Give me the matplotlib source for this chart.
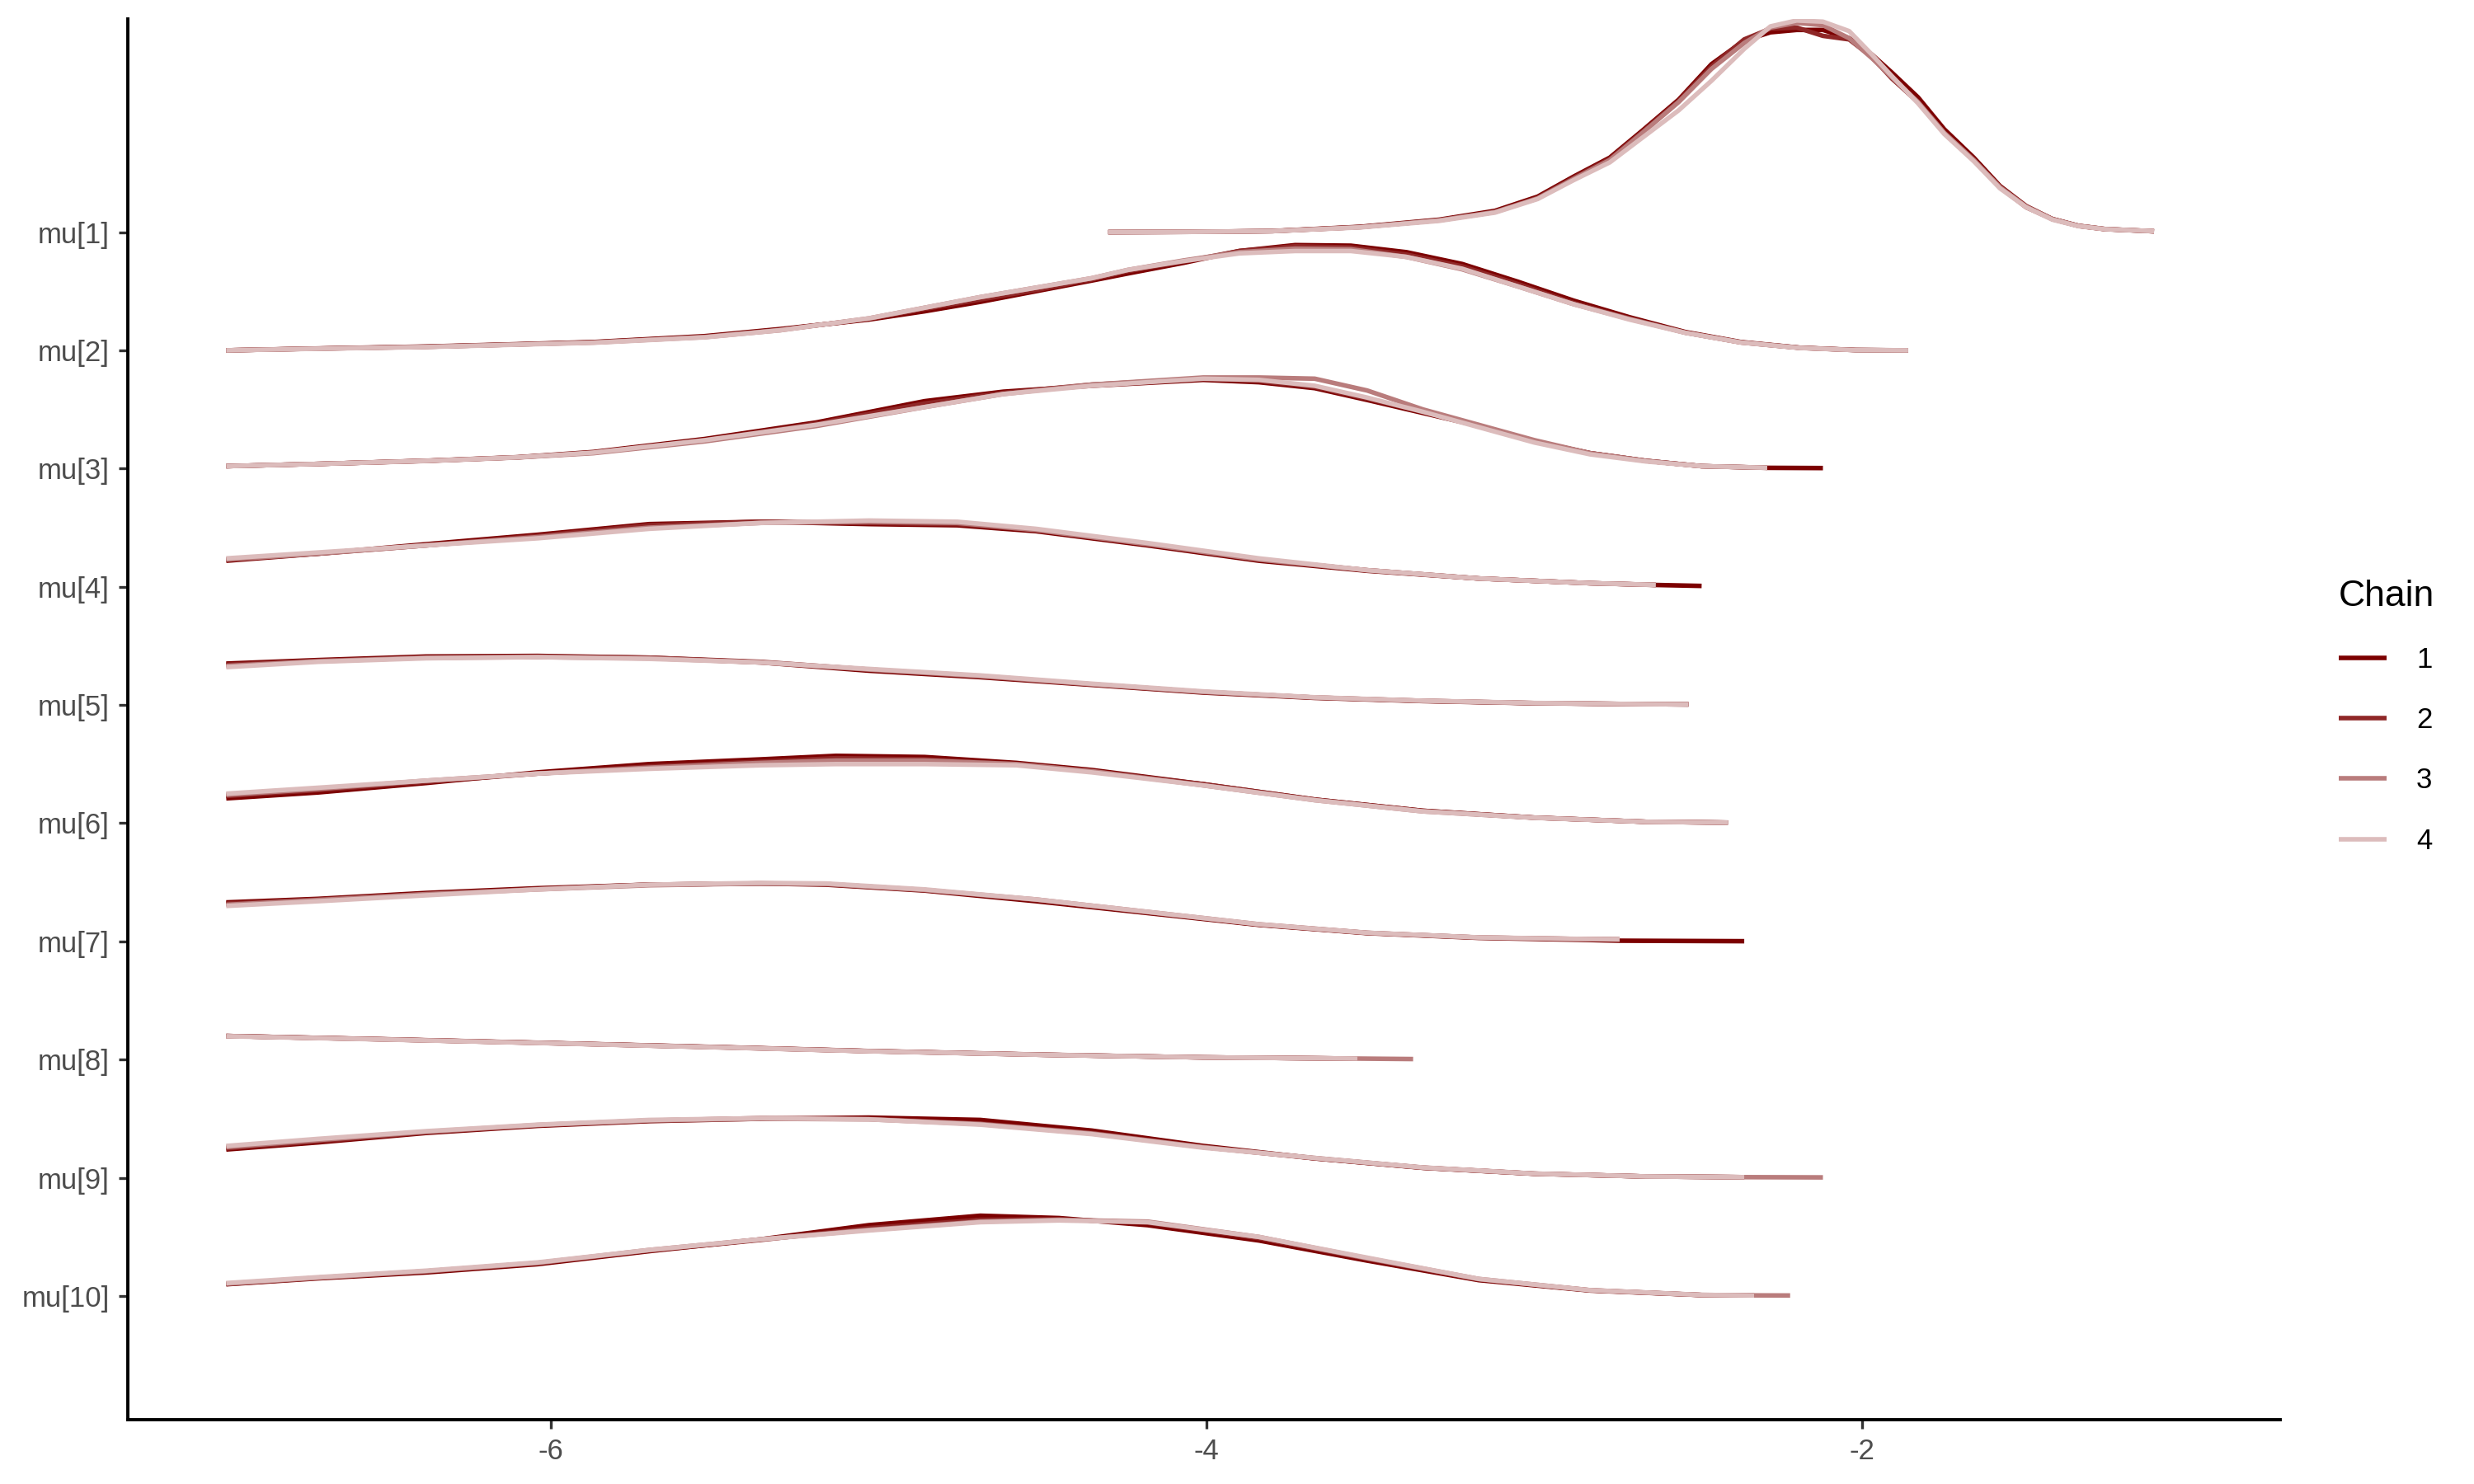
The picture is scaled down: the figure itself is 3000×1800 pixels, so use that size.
import numpy as np
import matplotlib
matplotlib.use("Agg")
import matplotlib.pyplot as plt

nan = np.nan

params = ["mu[1]", "mu[2]", "mu[3]", "mu[4]", "mu[5]",
          "mu[6]", "mu[7]", "mu[8]", "mu[9]", "mu[10]"]
chains = ["1", "2", "3", "4"]
chain_colors = ["#7C0000", "#8F2727", "#B97C7C", "#DCBCBC"]

# density heights (in units of row spacing)
mu1_x = [-4.30, -4.05, -3.80, -3.53, -3.29, -3.12, -2.99, -2.88, -2.77, -2.67, -2.56, -2.46, -2.36, -2.28,
         -2.20, -2.12, -2.04, -1.97, -1.91, -1.83, -1.75, -1.66, -1.58, -1.50, -1.42, -1.34, -1.26, -1.11]
mu1_h = [
    [0.0, 0.002, 0.009, 0.045, 0.105, 0.18, 0.30, 0.47, 0.63, 0.86, 1.12, 1.42, 1.62, 1.69, 1.71, 1.71, 1.64, 1.50, 1.35, 1.14, 0.87, 0.63, 0.39, 0.22, 0.11, 0.052, 0.025, 0.007],
    [0.0, 0.002, 0.008, 0.043, 0.10, 0.17, 0.29, 0.46, 0.62, 0.85, 1.11, 1.40, 1.63, 1.72, 1.73, 1.66, 1.63, 1.48, 1.30, 1.10, 0.84, 0.61, 0.38, 0.21, 0.11, 0.053, 0.026, 0.007],
    [0.0, 0.002, 0.008, 0.042, 0.10, 0.17, 0.285, 0.45, 0.61, 0.84, 1.10, 1.38, 1.60, 1.73, 1.77, 1.75, 1.64, 1.47, 1.31, 1.10, 0.84, 0.61, 0.38, 0.216, 0.11, 0.053, 0.026, 0.007],
    [0.0, 0.002, 0.008, 0.040, 0.095, 0.165, 0.28, 0.44, 0.59, 0.80, 1.03, 1.28, 1.55, 1.74, 1.79, 1.78, 1.70, 1.50, 1.32, 1.09, 0.83, 0.60, 0.37, 0.21, 0.105, 0.05, 0.025, 0.008],
]

mu2_x = [-6.99, -6.70, -6.38, -6.10, -5.87, -5.53, -5.30, -5.03, -4.86, -4.69, -4.52, -4.35, -4.24, -4.07,
         -3.90, -3.73, -3.56, -3.39, -3.22, -3.05, -2.88, -2.71, -2.54, -2.37, -2.19, -2.02, -1.86]
mu2_h = [
    [0.0, 0.016, 0.032, 0.052, 0.070, 0.12, 0.18, 0.26, 0.33, 0.41, 0.50, 0.59, 0.65, 0.74, 0.84, 0.89, 0.885, 0.83, 0.73, 0.58, 0.42, 0.28, 0.155, 0.07, 0.022, 0.003, 0.0],
    [0.0, 0.015, 0.030, 0.050, 0.068, 0.115, 0.175, 0.265, 0.35, 0.43, 0.51, 0.60, 0.67, 0.75, 0.84, 0.88, 0.87, 0.81, 0.71, 0.56, 0.40, 0.27, 0.15, 0.067, 0.021, 0.002, 0.0],
    [0.0, 0.015, 0.030, 0.050, 0.066, 0.112, 0.17, 0.27, 0.36, 0.45, 0.53, 0.61, 0.68, 0.76, 0.83, 0.86, 0.855, 0.79, 0.685, 0.54, 0.39, 0.265, 0.15, 0.067, 0.021, 0.002, 0.0],
    [0.0, 0.014, 0.028, 0.048, 0.064, 0.11, 0.17, 0.27, 0.36, 0.45, 0.53, 0.61, 0.68, 0.755, 0.82, 0.84, 0.84, 0.79, 0.69, 0.54, 0.39, 0.26, 0.148, 0.066, 0.02, 0.002, 0.0],
]

mu3_x = [-6.99, -6.70, -6.38, -6.10, -5.87, -5.53, -5.19, -4.86, -4.62, -4.35, -4.01,
         -3.84, -3.67, -3.51, -3.34, -3.17, -3.00, -2.83, -2.66, -2.49, -2.29, -2.12]
mu3_h = [
    [0.02, 0.04, 0.066, 0.096, 0.14, 0.25, 0.39, 0.57, 0.65, 0.70, 0.75, 0.73, 0.68, 0.58, 0.47, 0.36, 0.23, 0.13, 0.065, 0.02, 0.006, 0.004],
    [0.02, 0.04, 0.065, 0.095, 0.135, 0.24, 0.38, 0.55, 0.64, 0.71, 0.76, 0.74, 0.69, 0.59, 0.48, 0.36, 0.23, 0.13, 0.065, 0.02, 0.007, nan],
    [0.02, 0.04, 0.064, 0.094, 0.13, 0.23, 0.36, 0.52, 0.63, 0.71, 0.77, 0.77, 0.76, 0.66, 0.50, 0.37, 0.24, 0.13, 0.065, 0.02, 0.007, nan],
    [0.02, 0.04, 0.065, 0.095, 0.135, 0.24, 0.37, 0.52, 0.63, 0.70, 0.76, 0.75, 0.70, 0.60, 0.48, 0.35, 0.22, 0.12, 0.06, 0.02, 0.007, nan],
]

mu4_x = [-6.99, -6.71, -6.38, -6.04, -5.70, -5.36, -5.03, -4.76, -4.52, -4.18, -3.84, -3.51, -3.17, -2.83, -2.63, -2.49]
mu4_h = [
    [0.22, 0.28, 0.36, 0.44, 0.53, 0.55, 0.53, 0.52, 0.47, 0.35, 0.22, 0.135, 0.07, 0.03, 0.015, 0.007],
    [0.23, 0.28, 0.35, 0.43, 0.52, 0.55, 0.54, 0.53, 0.48, 0.36, 0.23, 0.14, 0.07, 0.03, 0.016, nan],
    [0.23, 0.28, 0.35, 0.42, 0.50, 0.54, 0.55, 0.54, 0.48, 0.36, 0.23, 0.14, 0.07, 0.03, 0.016, nan],
    [0.24, 0.29, 0.35, 0.41, 0.49, 0.54, 0.56, 0.55, 0.49, 0.37, 0.24, 0.14, 0.07, 0.03, 0.016, nan],
]

mu5_x = [-6.99, -6.71, -6.38, -6.04, -5.70, -5.36, -5.03, -4.69, -4.35, -4.01, -3.67, -3.34, -3.00, -2.66, -2.53]
mu5_h = [
    [0.35, 0.38, 0.41, 0.415, 0.40, 0.36, 0.29, 0.235, 0.17, 0.105, 0.06, 0.033, 0.015, 0.007, 0.005],
    [0.34, 0.375, 0.40, 0.41, 0.40, 0.365, 0.30, 0.24, 0.175, 0.11, 0.063, 0.035, 0.016, 0.007, 0.005],
    [0.33, 0.37, 0.40, 0.405, 0.395, 0.36, 0.30, 0.245, 0.175, 0.11, 0.063, 0.035, 0.016, 0.007, 0.005],
    [0.32, 0.365, 0.395, 0.405, 0.39, 0.36, 0.305, 0.25, 0.18, 0.115, 0.065, 0.036, 0.017, 0.007, 0.005],
]

mu6_x = [-6.99, -6.71, -6.38, -6.04, -5.70, -5.36, -5.13, -4.86, -4.58, -4.35, -4.01, -3.67, -3.34, -3.00, -2.66, -2.41]
mu6_h = [
    [0.21, 0.26, 0.34, 0.43, 0.50, 0.54, 0.57, 0.56, 0.51, 0.45, 0.33, 0.20, 0.105, 0.047, 0.012, 0.005],
    [0.23, 0.28, 0.35, 0.42, 0.48, 0.52, 0.55, 0.54, 0.50, 0.44, 0.33, 0.20, 0.105, 0.047, 0.012, 0.005],
    [0.24, 0.29, 0.36, 0.42, 0.47, 0.51, 0.53, 0.53, 0.50, 0.44, 0.32, 0.195, 0.10, 0.046, 0.012, 0.005],
    [0.25, 0.30, 0.36, 0.42, 0.46, 0.49, 0.50, 0.50, 0.49, 0.43, 0.32, 0.195, 0.10, 0.046, 0.012, 0.005],
]

mu7_x = [-6.99, -6.71, -6.38, -6.04, -5.70, -5.36, -5.16, -4.86, -4.52, -4.18, -3.84, -3.51, -3.17, -2.83, -2.74, -2.36]
mu7_h = [
    [0.33, 0.36, 0.41, 0.45, 0.48, 0.49, 0.48, 0.43, 0.34, 0.24, 0.14, 0.07, 0.03, 0.012, 0.006, 0.002],
    [0.32, 0.355, 0.40, 0.445, 0.48, 0.49, 0.485, 0.435, 0.35, 0.245, 0.142, 0.072, 0.033, 0.019, 0.017, nan],
    [0.31, 0.35, 0.40, 0.44, 0.475, 0.49, 0.485, 0.435, 0.355, 0.25, 0.145, 0.073, 0.033, 0.019, 0.017, nan],
    [0.30, 0.34, 0.39, 0.44, 0.48, 0.495, 0.49, 0.44, 0.355, 0.25, 0.145, 0.073, 0.034, 0.02, 0.017, nan],
]

mu8_x = [-6.99, -6.50, -6.04, -5.50, -5.03, -4.50, -4.01, -3.54, -3.37]
mu8_h = [
    [0.20, 0.172, 0.143, 0.107, 0.073, 0.042, 0.019, 0.009, nan],
    [0.20, 0.171, 0.142, 0.106, 0.072, 0.041, 0.019, 0.009, nan],
    [0.20, 0.171, 0.142, 0.105, 0.072, 0.041, 0.019, 0.009, 0.005],
    [0.198, 0.170, 0.141, 0.105, 0.071, 0.041, 0.019, 0.009, nan],
]

mu9_x = [-6.99, -6.71, -6.38, -6.04, -5.70, -5.36, -5.03, -4.69, -4.35, -4.01, -3.67, -3.34, -3.00, -2.66, -2.36, -2.12]
mu9_h = [
    [0.24, 0.30, 0.38, 0.44, 0.48, 0.50, 0.51, 0.49, 0.40, 0.27, 0.165, 0.085, 0.035, 0.012, 0.006, nan],
    [0.25, 0.31, 0.385, 0.445, 0.485, 0.505, 0.50, 0.46, 0.38, 0.26, 0.165, 0.086, 0.035, 0.012, 0.006, nan],
    [0.26, 0.32, 0.39, 0.447, 0.485, 0.50, 0.495, 0.455, 0.375, 0.26, 0.168, 0.087, 0.036, 0.012, 0.006, 0.004],
    [0.27, 0.33, 0.395, 0.45, 0.49, 0.505, 0.495, 0.45, 0.37, 0.255, 0.168, 0.088, 0.036, 0.012, 0.006, nan],
]

mu10_x = [-6.99, -6.71, -6.38, -6.04, -5.70, -5.36, -5.03, -4.69, -4.45, -4.18, -3.84, -3.51, -3.17, -2.83, -2.49, -2.33, -2.22]
mu10_h = [
    [0.10, 0.15, 0.20, 0.27, 0.38, 0.48, 0.60, 0.68, 0.66, 0.60, 0.47, 0.30, 0.135, 0.047, 0.009, 0.006, nan],
    [0.102, 0.155, 0.21, 0.28, 0.385, 0.475, 0.575, 0.645, 0.65, 0.62, 0.49, 0.315, 0.14, 0.049, 0.009, 0.006, nan],
    [0.105, 0.155, 0.21, 0.28, 0.39, 0.48, 0.56, 0.63, 0.645, 0.63, 0.50, 0.32, 0.145, 0.05, 0.01, 0.006, 0.005],
    [0.11, 0.16, 0.215, 0.285, 0.39, 0.48, 0.555, 0.625, 0.64, 0.625, 0.50, 0.325, 0.145, 0.05, 0.01, 0.006, nan],
]

all_x = [mu1_x, mu2_x, mu3_x, mu4_x, mu5_x, mu6_x, mu7_x, mu8_x, mu9_x, mu10_x]
all_h = [mu1_h, mu2_h, mu3_h, mu4_h, mu5_h, mu6_h, mu7_h, mu8_h, mu9_h, mu10_h]

plt.rcParams['font.family'] = ['Liberation Sans', 'DejaVu Sans']

fig = plt.figure(figsize=(15, 9), dpi=200)
ax = fig.add_axes([0.0517, 0.0433, 0.87, 0.9437])

n = len(params)
for i, (xs, hs) in enumerate(zip(all_x, all_h)):
    base = n - 1 - i
    for c in range(4):
        h = np.array(hs[c], dtype=float)
        ax.plot(xs, base + h, color=chain_colors[c], lw=2.0,
                solid_capstyle='butt', solid_joinstyle='round',
                label=chains[c] if i == 0 else None)

ax.set_xlim(-7.29, -0.725)
ax.set_ylim(-1.046, 10.80)
ax.set_xticks([-6, -4, -2])
ax.set_xticklabels(["-6", "-4", "-2"])
ax.set_yticks(range(n))
ax.set_yticklabels(params[::-1])

for s in ['top', 'right']:
    ax.spines[s].set_visible(False)
for s in ['left', 'bottom']:
    ax.spines[s].set_linewidth(1.4)
    ax.spines[s].set_color('black')
ax.tick_params(axis='both', colors='#333333', labelcolor='#4D4D4D',
               labelsize=12.5, width=1.2, length=4, pad=4)

leg = fig.legend(loc='upper left', bbox_to_anchor=(0.935, 0.627), frameon=False,
                 title='Chain', title_fontsize=16, fontsize=12.5,
                 handlelength=1.65, handletextpad=1.05, labelspacing=1.16,
                 alignment='left')

fig.savefig('out.png', dpi=200, facecolor='white')
